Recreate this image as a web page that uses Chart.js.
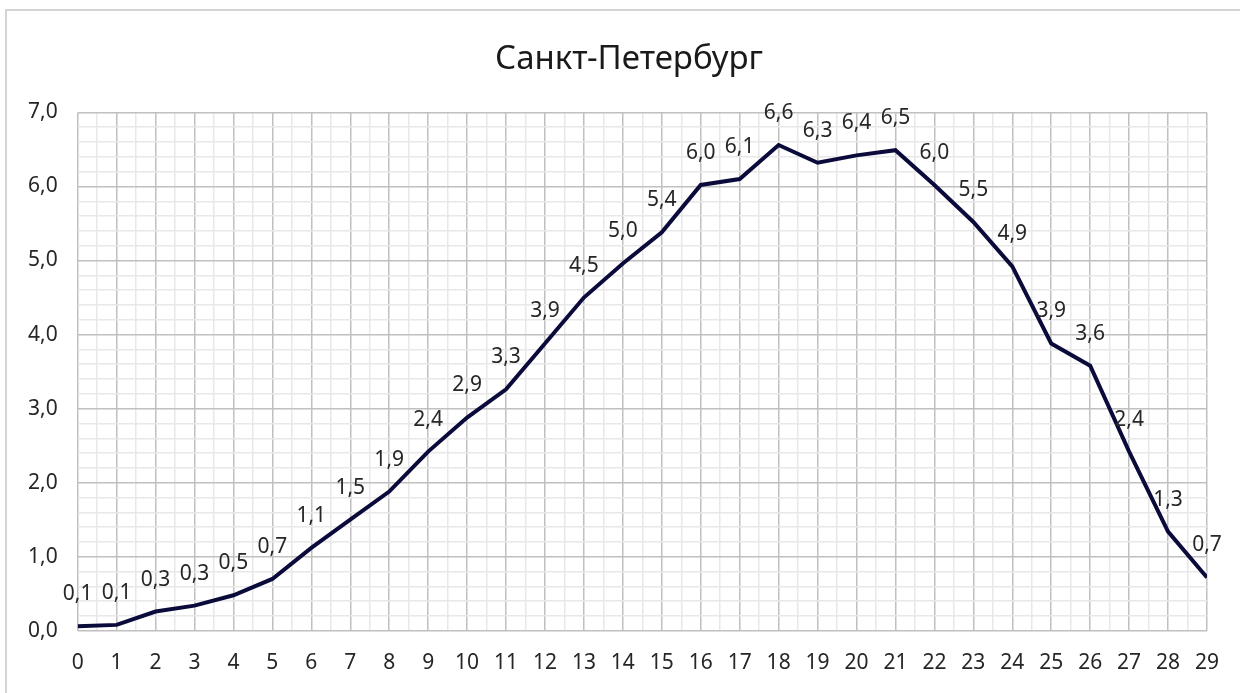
<!DOCTYPE html>
<html>
<head>
<meta charset="utf-8">
<script src="https://cdn.jsdelivr.net/npm/chart.js@4"></script>
<style>
  html, body { margin: 0; padding: 0; background: #fff; overflow: hidden; }
  #frame { position: absolute; left: 5px; top: 9px; width: 1260px; height: 720px;
           border-left: 2px solid #d4d4d4; border-top: 2px solid #d4d4d4; }
  #wrap { position: absolute; left: 0; top: 0; width: 1240px; height: 693px; }
</style>
</head>
<body>
<div id="frame"></div>
<div id="wrap"><canvas id="c" width="1240" height="693"></canvas></div>
<script>
// Санкт-Петербург: значения по дням 0..29
const days = [0,1,2,3,4,5,6,7,8,9,10,11,12,13,14,15,16,17,18,19,20,21,22,23,24,25,26,27,28,29];
const values = [0.06,0.08,0.26,0.34,0.48,0.70,1.12,1.50,1.88,2.42,2.88,3.26,3.88,4.50,4.96,5.38,
                6.02,6.10,6.56,6.32,6.42,6.49,6.02,5.52,4.92,3.88,3.58,2.42,1.34,0.72];
const yMax = 7;
const TITLE = "Санкт-Петербург";

const FONT = "'Noto Sans', 'Open Sans', sans-serif";
const INK = "#262626";
const LINE = "#0b0b3b";
const MAJOR = "#c0c0c0";
const MINOR = "#e8e8e8";

const fmt = (v) => v.toFixed(1).replace(".", ",");
const isWhole = (v) => Math.abs(v - Math.round(v)) < 1e-6;

// value labels above each point + title drawn centred on the canvas
const pointLabels = {
  id: "pointLabels",
  afterDatasetsDraw(chart) {
    const ctx = chart.ctx;
    const meta = chart.getDatasetMeta(0);
    ctx.save();
    ctx.font = "21px " + FONT;
    ctx.fillStyle = INK;
    ctx.textAlign = "center";
    ctx.textBaseline = "middle";
    meta.data.forEach((pt, i) => {
      const txt = fmt(values[i]);
      let x = pt.x;
      const w = ctx.measureText(txt).width;
      if (x + w / 2 > chart.width - 2) x = chart.width - 2 - w / 2;
      ctx.fillText(txt, x, pt.y - 32);
    });
    // title (built-in one only reserves the space)
    const t = chart.titleBlock;
    ctx.font = "33px " + FONT;
    ctx.fillStyle = "#1a1a1a";
    ctx.fillText(TITLE, chart.width / 2 + 9, (t.top + t.bottom) / 2 + 3);
    ctx.restore();
  },
};

new Chart(document.getElementById("c"), {
  type: "line",
  data: {
    datasets: [{
      data: days.map((d, i) => ({ x: d, y: values[i] })),
      borderColor: LINE,
      borderWidth: 4,
      pointRadius: 0,
      tension: 0,
      fill: false,
    }],
  },
  options: {
    responsive: false,
    animation: false,
    layout: { padding: { left: 8, right: 33, top: 0, bottom: -3 } },
    scales: {
      x: {
        type: "linear", min: 0, max: 29,
        grid: {
          color: (c) => (isWhole(c.tick.value) ? MAJOR : MINOR),
          lineWidth: 1.5, drawTicks: false,
        },
        border: { display: false },
        ticks: {
          stepSize: 0.5, autoSkip: false, maxRotation: 0, padding: 20,
          font: { family: FONT, size: 21 }, color: INK,
          callback: (v) => (isWhole(v) ? String(Math.round(v)) : ""),
        },
      },
      y: {
        min: 0, max: yMax,
        grid: {
          color: (c) => (isWhole(c.tick.value) ? MAJOR : MINOR),
          lineWidth: 1.5, drawTicks: false,
        },
        border: { display: false },
        ticks: {
          stepSize: 0.2, autoSkip: false, maxTicksLimit: 100, padding: 20,
          font: { family: FONT, size: 21 }, color: INK,
          callback: (v) => (isWhole(v) ? fmt(v) : ""),
        },
      },
    },
    plugins: {
      legend: { display: false },
      tooltip: { enabled: false },
      title: {
        display: true, text: TITLE,
        font: { family: FONT, size: 32, weight: "normal" }, color: "rgba(0,0,0,0)",
        padding: { top: 42, bottom: 32 },
      },
    },
  },
  plugins: [pointLabels],
});
</script>
</body>
</html>
